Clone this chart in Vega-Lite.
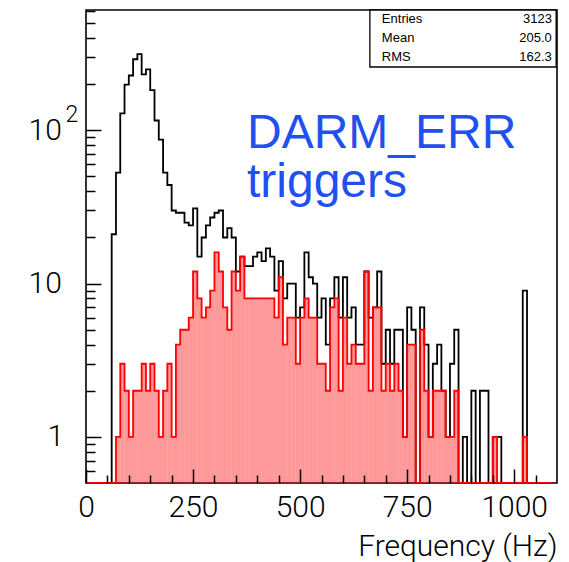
{
  "$schema": "https://vega.github.io/schema/vega-lite/v6.json",
  "width": 471,
  "height": 473,
  "autosize": {"type": "none"},
  "padding": {"left": 86, "top": 10, "right": 12, "bottom": 79},
  "background": "white",
  "config": {
    "view": {"stroke": "#000", "strokeWidth": 1.6},
    "font": "Roboto",
    "mark": {"invalid": "show"}
  },
  "data": {
    "values": [
      {"lo": 0, "hi": 10, "n": 0, "r": 0}, {"lo": 10, "hi": 20, "n": 0, "r": 0},
      {"lo": 20, "hi": 30, "n": 0, "r": 0}, {"lo": 30, "hi": 40, "n": 0, "r": 0},
      {"lo": 40, "hi": 50, "n": 0, "r": 0}, {"lo": 50, "hi": 60, "n": 0, "r": 0},
      {"lo": 60, "hi": 70, "n": 21, "r": 0}, {"lo": 70, "hi": 80, "n": 53, "r": 1},
      {"lo": 80, "hi": 90, "n": 129, "r": 3}, {"lo": 90, "hi": 100, "n": 199, "r": 2},
      {"lo": 100, "hi": 110, "n": 228, "r": 1}, {"lo": 110, "hi": 120, "n": 291, "r": 2},
      {"lo": 120, "hi": 130, "n": 314, "r": 2}, {"lo": 130, "hi": 140, "n": 232, "r": 3},
      {"lo": 140, "hi": 150, "n": 250, "r": 2}, {"lo": 150, "hi": 160, "n": 183, "r": 3},
      {"lo": 160, "hi": 170, "n": 116, "r": 2}, {"lo": 170, "hi": 180, "n": 87, "r": 1},
      {"lo": 180, "hi": 190, "n": 53, "r": 2}, {"lo": 190, "hi": 200, "n": 44, "r": 3},
      {"lo": 200, "hi": 210, "n": 30, "r": 1}, {"lo": 210, "hi": 220, "n": 29, "r": 4},
      {"lo": 220, "hi": 230, "n": 29, "r": 5}, {"lo": 230, "hi": 240, "n": 25, "r": 5},
      {"lo": 240, "hi": 250, "n": 24, "r": 6}, {"lo": 250, "hi": 260, "n": 31, "r": 12},
      {"lo": 260, "hi": 270, "n": 15, "r": 8}, {"lo": 270, "hi": 280, "n": 20, "r": 6},
      {"lo": 280, "hi": 290, "n": 24, "r": 7}, {"lo": 290, "hi": 300, "n": 27, "r": 9},
      {"lo": 300, "hi": 310, "n": 29, "r": 16}, {"lo": 310, "hi": 320, "n": 30, "r": 12},
      {"lo": 320, "hi": 330, "n": 20, "r": 7}, {"lo": 330, "hi": 340, "n": 23, "r": 5},
      {"lo": 340, "hi": 350, "n": 20, "r": 12}, {"lo": 350, "hi": 360, "n": 12, "r": 9},
      {"lo": 360, "hi": 370, "n": 15, "r": 15}, {"lo": 370, "hi": 380, "n": 13, "r": 8},
      {"lo": 380, "hi": 390, "n": 13, "r": 8}, {"lo": 390, "hi": 400, "n": 15, "r": 8},
      {"lo": 400, "hi": 410, "n": 16, "r": 8}, {"lo": 410, "hi": 420, "n": 14, "r": 8},
      {"lo": 420, "hi": 430, "n": 17, "r": 8}, {"lo": 430, "hi": 440, "n": 15, "r": 8},
      {"lo": 440, "hi": 450, "n": 9, "r": 6}, {"lo": 450, "hi": 460, "n": 14, "r": 11},
      {"lo": 460, "hi": 470, "n": 8, "r": 4}, {"lo": 470, "hi": 480, "n": 10, "r": 6},
      {"lo": 480, "hi": 490, "n": 10, "r": 6}, {"lo": 490, "hi": 500, "n": 6, "r": 3},
      {"lo": 500, "hi": 510, "n": 7, "r": 6}, {"lo": 510, "hi": 520, "n": 16, "r": 8},
      {"lo": 520, "hi": 530, "n": 11, "r": 6}, {"lo": 530, "hi": 540, "n": 10, "r": 6},
      {"lo": 540, "hi": 550, "n": 6, "r": 3}, {"lo": 550, "hi": 560, "n": 8, "r": 3},
      {"lo": 560, "hi": 570, "n": 4, "r": 2}, {"lo": 570, "hi": 580, "n": 8, "r": 7},
      {"lo": 580, "hi": 590, "n": 11, "r": 8}, {"lo": 590, "hi": 600, "n": 6, "r": 2},
      {"lo": 600, "hi": 610, "n": 11, "r": 6}, {"lo": 610, "hi": 620, "n": 6, "r": 3},
      {"lo": 620, "hi": 630, "n": 7, "r": 4}, {"lo": 630, "hi": 640, "n": 4, "r": 3},
      {"lo": 640, "hi": 650, "n": 4, "r": 3}, {"lo": 650, "hi": 660, "n": 12, "r": 12},
      {"lo": 660, "hi": 670, "n": 6, "r": 2}, {"lo": 670, "hi": 680, "n": 7, "r": 7},
      {"lo": 680, "hi": 690, "n": 12, "r": 7}, {"lo": 690, "hi": 700, "n": 3, "r": 2},
      {"lo": 700, "hi": 710, "n": 5, "r": 3}, {"lo": 710, "hi": 720, "n": 3, "r": 2},
      {"lo": 720, "hi": 730, "n": 5, "r": 3}, {"lo": 730, "hi": 740, "n": 5, "r": 2},
      {"lo": 740, "hi": 750, "n": 1, "r": 1}, {"lo": 750, "hi": 760, "n": 7, "r": 4},
      {"lo": 760, "hi": 770, "n": 5, "r": 4}, {"lo": 770, "hi": 780, "n": 0, "r": 0},
      {"lo": 780, "hi": 790, "n": 7, "r": 5}, {"lo": 790, "hi": 800, "n": 4, "r": 2},
      {"lo": 800, "hi": 810, "n": 1, "r": 1}, {"lo": 810, "hi": 820, "n": 3, "r": 2},
      {"lo": 820, "hi": 830, "n": 4, "r": 2}, {"lo": 830, "hi": 840, "n": 2, "r": 2},
      {"lo": 840, "hi": 850, "n": 1, "r": 1}, {"lo": 850, "hi": 860, "n": 3, "r": 1},
      {"lo": 860, "hi": 870, "n": 5, "r": 2}, {"lo": 870, "hi": 880, "n": 0, "r": 0},
      {"lo": 880, "hi": 890, "n": 1, "r": 0}, {"lo": 890, "hi": 900, "n": 0, "r": 0},
      {"lo": 900, "hi": 910, "n": 2, "r": 0}, {"lo": 910, "hi": 920, "n": 0, "r": 0},
      {"lo": 920, "hi": 930, "n": 2, "r": 0}, {"lo": 930, "hi": 940, "n": 2, "r": 0},
      {"lo": 940, "hi": 950, "n": 0, "r": 0}, {"lo": 950, "hi": 960, "n": 1, "r": 1},
      {"lo": 960, "hi": 970, "n": 1, "r": 0}, {"lo": 970, "hi": 980, "n": 0, "r": 0},
      {"lo": 980, "hi": 990, "n": 0, "r": 0}, {"lo": 990, "hi": 1000, "n": 0, "r": 0},
      {"lo": 1000, "hi": 1010, "n": 0, "r": 0}, {"lo": 1010, "hi": 1020, "n": 0, "r": 0},
      {"lo": 1020, "hi": 1030, "n": 9, "r": 1}, {"lo": 1030, "hi": 1040, "n": 0, "r": 0},
      {"lo": 1040, "hi": 1050, "n": 0, "r": 0}, {"lo": 1050, "hi": 1060, "n": 0, "r": 0},
      {"lo": 1060, "hi": 1070, "n": 0, "r": 0}, {"lo": 1070, "hi": 1080, "n": 0, "r": 0},
      {"lo": 1080, "hi": 1090, "n": 0, "r": 0}, {"lo": 1090, "hi": 1100, "n": 0, "r": 0}
    ]
  },
  "resolve": {"axis": {"x": "independent", "y": "independent"}},
  "layer": [
    {
      "mark": {"type": "line", "interpolate": "step-after", "color": "#000", "strokeWidth": 1.8, "clip": true},
      "encoding": {
        "x": {
          "field": "lo", "type": "quantitative",
          "scale": {"domain": [0, 1100], "nice": false, "zero": false},
          "axis": {
            "orient": "bottom", "values": [0, 250, 500, 750, 1000], "format": "d",
            "ticks": false, "domain": false, "grid": false,
            "labelFont": "Roboto", "labelFontWeight": 300, "labelFontSize": 30, "labelColor": "#000",
            "labelPadding": 9, "labelFlush": false, "labelOverlap": false, "labelBound": false,
            "title": "Frequency (Hz)", "titleFont": "Roboto", "titleFontSize": 30,
            "titleFontWeight": 300, "titleColor": "#000",
            "titleAnchor": "end", "titleAlign": "right", "titleBaseline": "alphabetic",
            "titleX": 471, "titleY": 72
          }
        },
        "y": {
          "field": "n", "type": "quantitative",
          "scale": {"type": "log", "domain": [0.5, 610], "nice": false, "clamp": true},
          "axis": {
            "orient": "left", "values": [1, 10, 100],
            "labelExpr": "datum.value >= 10 ? '10' : '1'",
            "ticks": false, "domain": false, "grid": false,
            "labelFont": "Roboto", "labelFontWeight": 300, "labelFontSize": 30, "labelColor": "#000",
            "labelAlign": "left",
            "labelPadding": {"condition": {"test": "datum.value < 5", "value": 39}, "value": 58},
            "labelFlush": false, "labelOverlap": false, "labelBound": false,
            "title": null
          }
        }
      }
    },
    {
      "transform": [{"filter": "datum.r > 0"}],
      "mark": {"type": "rect", "fill": "#ff0000", "fillOpacity": 0.4, "clip": true},
      "encoding": {
        "x": {
          "field": "lo", "type": "quantitative",
          "axis": {
            "orient": "bottom", "values": [0, 250, 500, 750, 1000],
            "labels": false, "domain": false, "grid": false,
            "ticks": true, "tickSize": -14, "tickColor": "#000", "tickWidth": 1.5,
            "title": null, "zindex": 2
          }
        },
        "x2": {"field": "hi"},
        "y": {
          "field": "r", "type": "quantitative",
          "axis": {
            "orient": "left", "values": [1, 10, 100],
            "labels": false, "domain": false, "grid": false,
            "ticks": true, "tickSize": -15, "tickColor": "#000", "tickWidth": 1.5,
            "title": null, "zindex": 2
          }
        },
        "y2": {"datum": 0.5}
      }
    },
    {
      "mark": {"type": "line", "interpolate": "step-after", "color": "#ff0000", "strokeWidth": 1.8, "clip": true},
      "encoding": {
        "x": {
          "field": "lo", "type": "quantitative",
          "axis": {
            "orient": "bottom",
            "values": [50, 100, 150, 200, 300, 350, 400, 450, 550, 600, 650, 700, 800, 850, 900, 950, 1050],
            "labels": false, "domain": false, "grid": false,
            "ticks": true, "tickSize": -8, "tickColor": "#000", "tickWidth": 1.5,
            "title": null, "zindex": 2
          }
        },
        "y": {
          "field": "r", "type": "quantitative",
          "axis": {
            "orient": "left",
            "values": [0.6, 0.7, 0.8, 0.9, 2, 3, 4, 5, 6, 7, 8, 9, 20, 30, 40, 50, 60, 70, 80, 90, 200, 300, 400, 500, 600],
            "labels": false, "domain": false, "grid": false,
            "ticks": true, "tickSize": -9, "tickColor": "#000", "tickWidth": 1.5,
            "title": null, "zindex": 2
          }
        }
      }
    },
    {
      "data": {"values": [{"exponent": "2"}]},
      "mark": {"type": "text", "align": "center", "baseline": "middle", "fontSize": 23, "fontWeight": 300, "color": "#000", "font": "Roboto", "clip": false},
      "encoding": {
        "x": {"datum": -33, "axis": null},
        "y": {"datum": 126, "axis": null},
        "text": {"field": "exponent"}
      }
    },
    {
      "data": {"values": [{"labels": ["Entries", "Mean", "RMS"], "vals": ["3123", "205.0", "162.3"]}]},
      "layer": [
        {
          "mark": {"type": "rect", "fill": "white", "stroke": "#000", "strokeWidth": 1.3},
          "encoding": {
            "x": {"datum": 663, "axis": null},
            "x2": {"datum": 1098},
            "y": {"datum": 610, "axis": null},
            "y2": {"datum": 259}
          }
        },
        {
          "mark": {"type": "text", "align": "left", "baseline": "middle", "fontSize": 13, "lineHeight": 19, "color": "#000", "font": "Liberation Sans"},
          "encoding": {
            "x": {"datum": 691, "axis": null},
            "y": {"datum": 532, "axis": null},
            "text": {"field": "labels"}
          }
        },
        {
          "mark": {"type": "text", "align": "right", "baseline": "middle", "fontSize": 13, "lineHeight": 19, "color": "#000", "font": "Liberation Sans"},
          "encoding": {
            "x": {"datum": 1088, "axis": null},
            "y": {"datum": 532, "axis": null},
            "text": {"field": "vals"}
          }
        }
      ]
    },
    {
      "data": {"values": [{"caption": ["DARM_ERR", "triggers"]}]},
      "mark": {"type": "text", "align": "left", "baseline": "alphabetic", "fontSize": 48, "lineHeight": 49, "color": "#1f50f0", "font": "Liberation Sans"},
      "encoding": {
        "x": {"datum": 376, "axis": null},
        "y": {"datum": 76.7, "axis": null},
        "text": {"field": "caption"}
      }
    }
  ]
}
